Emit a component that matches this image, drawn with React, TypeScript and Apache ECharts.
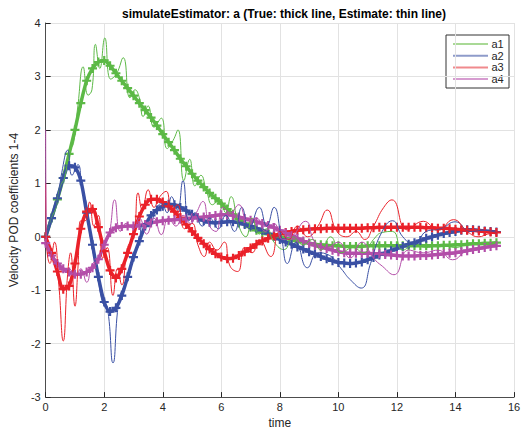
import React, { useEffect, useRef } from "react";
import * as echarts from "echarts";

// time grid of the "true" trajectories (step 0.2 s, 0 … 15.4)
const TRUE_TIME: number[] = Array.from({ length: 78 }, (_, i) => Math.round(i * 2) / 10);

const A1_TRUE = [
  0, 0.35, 0.7, 1.1, 1.55, 2.0, 2.5, 2.92, 3.15, 3.27,
  3.3, 3.2, 3.06, 2.92, 2.78, 2.64, 2.5, 2.37, 2.23, 2.08,
  1.92, 1.77, 1.62, 1.46, 1.32, 1.18, 1.05, 0.93, 0.82, 0.72,
  0.62, 0.52, 0.42, 0.33, 0.25, 0.18, 0.12, 0.08, 0.05, 0.02,
  0, -0.03, -0.05, -0.08, -0.1, -0.12, -0.14, -0.15, -0.16, -0.17,
  -0.17, -0.18, -0.18, -0.18, -0.18, -0.17, -0.17, -0.17, -0.17, -0.17,
  -0.17, -0.17, -0.17, -0.17, -0.17, -0.17, -0.17, -0.17, -0.16, -0.16,
  -0.15, -0.15, -0.14, -0.13, -0.13, -0.12, -0.12, -0.11,
];
const A2_TRUE = [
  0, 0.35, 0.72, 1.1, 1.33, 1.3, 1.05, 0.45, -0.15, -0.75,
  -1.22, -1.4, -1.33, -1.1, -0.75, -0.38, -0.08, 0.2, 0.4, 0.5,
  0.57, 0.61, 0.6, 0.55, 0.49, 0.42, 0.35, 0.3, 0.27, 0.26,
  0.27, 0.28, 0.28, 0.26, 0.23, 0.2, 0.16, 0.12, 0.06, 0.01,
  -0.05, -0.1, -0.14, -0.19, -0.23, -0.28, -0.32, -0.37, -0.41, -0.45,
  -0.48, -0.49, -0.5, -0.49, -0.47, -0.43, -0.39, -0.34, -0.3, -0.26,
  -0.22, -0.18, -0.14, -0.11, -0.07, -0.03, 0, 0.03, 0.06, 0.08,
  0.1, 0.12, 0.13, 0.13, 0.12, 0.11, 0.1, 0.09,
];
const A3_TRUE = [
  0, -0.3, -0.65, -0.98, -0.92, -0.5, 0.15, 0.47, 0.52, 0.18,
  -0.27, -0.63, -0.77, -0.6, -0.3, 0.05, 0.38, 0.6, 0.7, 0.7,
  0.65, 0.57, 0.47, 0.36, 0.23, 0.1, -0.02, -0.13, -0.23, -0.32,
  -0.38, -0.41, -0.4, -0.35, -0.28, -0.21, -0.14, -0.08, -0.03, 0.02,
  0.05, 0.08, 0.1, 0.12, 0.13, 0.14, 0.15, 0.15, 0.16, 0.16,
  0.16, 0.16, 0.16, 0.16, 0.16, 0.17, 0.17, 0.18, 0.18, 0.18,
  0.18, 0.18, 0.18, 0.18, 0.18, 0.17, 0.17, 0.16, 0.16, 0.15,
  0.14, 0.13, 0.12, 0.12, 0.11, 0.1, 0.09, 0.08,
];
const A4_TRUE = [
  -0.12, -0.35, -0.5, -0.6, -0.66, -0.7, -0.7, -0.66, -0.58, -0.42,
  -0.15, 0.08, 0.17, 0.19, 0.2, 0.2, 0.21, 0.23, 0.26, 0.28,
  0.3, 0.31, 0.32, 0.33, 0.34, 0.35, 0.36, 0.37, 0.38, 0.4,
  0.41, 0.41, 0.4, 0.37, 0.34, 0.31, 0.28, 0.25, 0.21, 0.17,
  0.12, 0.07, 0.02, -0.03, -0.08, -0.12, -0.16, -0.19, -0.22, -0.25,
  -0.28, -0.3, -0.31, -0.31, -0.31, -0.31, -0.32, -0.32, -0.33, -0.34,
  -0.35, -0.36, -0.36, -0.36, -0.35, -0.35, -0.34, -0.33, -0.32, -0.31,
  -0.3, -0.28, -0.26, -0.24, -0.22, -0.2, -0.18, -0.17,
];

// estimates: [time, value] points read at the wiggles' turning points
const A1_EST: [number, number][] = [
  [0, 0], [0.15, 0.3], [0.35, 0.55], [0.5, 0.95], [0.65, 1.1], [0.8, 1.6], [0.95, 1.75],
  [1.1, 2.45], [1.28, 3.18], [1.45, 2.65], [1.58, 2.75], [1.7, 3.6], [1.85, 3.15],
  [2.02, 3.72], [2.22, 2.95], [2.42, 3.05], [2.65, 3.35], [2.88, 2.6], [3.05, 2.75],
  [3.2, 2.6], [3.33, 2.25], [3.5, 2.45], [3.7, 2.05], [3.95, 2.22], [4.15, 1.65],
  [4.35, 1.8], [4.52, 2.0], [4.72, 1.05], [4.92, 1.45], [5.1, 0.95], [5.3, 1.15],
  [5.5, 0.85], [5.7, 0.6], [5.95, 0.7], [6.15, 0.45], [6.33, 0.75], [6.6, 0.2],
  [6.84, 0.0], [7.05, 0.35], [7.3, 0.05], [7.55, 0.15], [7.8, -0.1], [8.15, -0.24],
  [8.45, 0.0], [8.8, -0.15], [9.1, -0.05], [9.4, -0.25], [9.73, 0.0], [10.1, -0.3],
  [10.5, -0.2], [10.85, -0.3], [11.2, -0.05], [11.5, 0.08], [11.85, 0.1], [12.2, -0.25],
  [12.6, -0.15], [13.0, -0.2], [13.5, -0.15], [14.0, -0.2], [14.5, -0.12], [15.0, -0.15],
  [15.4, -0.1],
];
const A2_EST: [number, number][] = [
  [0, 0], [0.2, 0.4], [0.4, 0.65], [0.55, 1.2], [0.75, 1.62], [0.9, 1.15], [1.1, 1.35],
  [1.25, 0.9], [1.4, 0.6], [1.55, -0.1], [1.75, -0.6], [1.95, -1.25], [2.1, -1.3],
  [2.3, -2.36], [2.5, -1.2], [2.7, -0.9], [2.85, -0.75], [3.0, -0.3], [3.15, -0.2],
  [3.35, 0.25], [3.55, 0.2], [3.75, 0.5], [3.95, 0.62], [4.15, 0.45], [4.3, 0.75],
  [4.5, 0.5], [4.69, 1.05], [4.9, 0.3], [5.1, 0.45], [5.35, 0.2], [5.6, 0.35],
  [5.9, 0.15], [6.15, 0.4], [6.45, 0.1], [6.7, 0.55], [6.95, 0.15], [7.3, 0.55],
  [7.55, 0.2], [7.8, 0.55], [8.05, 0.0], [8.26, -0.5], [8.55, -0.1], [8.94, -0.58],
  [9.3, -0.3], [9.7, -0.35], [10.1, -0.6], [10.4, -0.8], [10.78, -0.96], [11.1, -0.5],
  [11.45, 0.05], [11.85, 0.3], [12.2, 0.0], [12.6, -0.15], [13.0, 0.1], [13.5, 0.15],
  [14.0, 0.28], [14.5, 0.1], [15.0, 0.12], [15.4, 0.08],
];
const A3_EST: [number, number][] = [
  [0, 1.0], [0.02, 0], [0.15, -0.5], [0.3, -0.1], [0.45, -0.9], [0.6, -1.95], [0.75, -0.7],
  [0.85, -0.3], [1.0, -1.3], [1.1, -0.6], [1.2, 0.3], [1.35, 0.3], [1.5, 0.65],
  [1.65, 0.2], [1.8, 0.4], [1.95, -0.4], [2.1, -0.2], [2.3, -1.1], [2.45, -0.6],
  [2.6, -0.9], [2.8, -0.2], [3.0, 0.0], [3.16, 0.82], [3.3, 0.5], [3.5, 0.88],
  [3.7, 0.55], [3.9, 0.75], [4.12, 0.85], [4.3, 0.5], [4.5, 0.6], [4.75, 0.15],
  [5.0, 0.25], [5.2, -0.15], [5.42, -0.37], [5.6, -0.1], [5.85, -0.25], [6.1, -0.1],
  [6.3, -0.55], [6.56, -0.65], [6.8, -0.2], [7.05, -0.3], [7.3, -0.05], [7.69, -0.37],
  [8.0, 0.1], [8.3, -0.05], [8.6, 0.2], [8.95, 0.0], [9.3, 0.2], [9.62, 0.5],
  [9.95, 0.1], [10.3, 0.0], [10.6, 0.1], [10.9, -0.05], [11.2, 0.2], [11.55, 0.55],
  [11.83, 0.69], [12.35, 0.13], [12.9, 0.29], [13.4, 0.12], [13.93, 0.32], [14.4, 0.1],
  [14.8, 0.0], [15.1, 0.05], [15.4, 0.07],
];
const A4_EST: [number, number][] = [
  [0, 2.0], [0.02, -0.1], [0.2, -0.4], [0.4, -0.45], [0.6, -0.65], [0.8, -0.6], [1.0, -0.75],
  [1.2, -0.6], [1.4, -0.85], [1.6, -0.5], [1.8, -0.45], [2.0, -0.1], [2.15, 0.0],
  [2.36, 0.69], [2.55, 0.1], [2.75, 0.25], [3.0, 0.15], [3.2, 0.35], [3.45, 0.05],
  [3.7, 0.35], [3.95, 0.04], [4.2, 0.35], [4.45, 0.2], [4.7, 0.4], [4.95, 0.25],
  [5.15, 0.45], [5.37, 0.66], [5.6, 0.2], [5.82, 0.1], [6.05, 0.55], [6.3, 0.45],
  [6.6, 0.6], [6.9, 0.3], [7.2, 0.35], [7.5, 0.1], [7.8, 0.25], [8.1, -0.05],
  [8.4, 0.0], [8.88, 0.29], [9.2, -0.1], [9.6, -0.2], [10.0, -0.1], [10.4, -0.4],
  [10.8, -0.1], [11.2, -0.4], [11.5, -0.55], [11.9, -0.71], [12.4, -0.25], [12.9, -0.3],
  [13.4, -0.25], [13.9, -0.43], [14.4, -0.25], [14.9, -0.2], [15.4, -0.15],
];

const NAMES = ["a1", "a2", "a3", "a4"];
const COLORS = ["#5cb946", "#3a50a4", "#ea2129", "#b34ea9"];
const LEGEND_COLORS = ["#a9d996", "#8e9bca", "#f08a8d", "#d69cd0"];
const X_TICKS = { min: 0, max: 16, interval: 2 };
const Y_TICKS = { min: -3, max: 4, interval: 1 };

const PLUS = "path://M3.8,0H6.2V3.8H10V6.2H6.2V10H3.8V6.2H0V3.8H3.8Z";
const FONT = "'Liberation Sans', Arial, Helvetica, sans-serif";

export default function App() {
  const ref = useRef<HTMLDivElement>(null);
  useEffect(() => {
    if (!ref.current) return;
    const chart = echarts.init(ref.current, null, { renderer: "svg" });
    const trues = [A1_TRUE, A2_TRUE, A3_TRUE, A4_TRUE];
    const ests = [A1_EST, A2_EST, A3_EST, A4_EST];
    const series: any[] = [];
    trues.forEach((vals, i) => {
      series.push({
        name: NAMES[i],
        type: "line",
        data: TRUE_TIME.map((t, k) => [t, vals[k]]),
        smooth: 0.3,
        symbol: PLUS,
        symbolSize: 9,
        showAllSymbol: true,
        lineStyle: { color: COLORS[i], width: 3.5 },
        itemStyle: { color: COLORS[i] },
        z: 2,
      });
    });
    ests.forEach((pts, i) => {
      series.push({
        name: NAMES[i] + " estimate",
        type: "line",
        data: pts,
        smooth: 0.5,
        symbol: "none",
        lineStyle: { color: COLORS[i], width: 1 },
        itemStyle: { color: COLORS[i] },
        z: 3,
      });
    });

    // legend box (drawn as graphic so that its lighter line colours are exact)
    const legendX = 446, legendY = 35, rowH = 11.7;
    const legendChildren: any[] = [
      {
        type: "rect",
        shape: { x: 0, y: 0, width: 63, height: 53 },
        style: { fill: "#fff", stroke: "#333", lineWidth: 1 },
      },
    ];
    NAMES.forEach((n, i) => {
      const cy = 9 + i * rowH;
      legendChildren.push({
        type: "line",
        shape: { x1: 7, y1: cy, x2: 42, y2: cy },
        style: { stroke: LEGEND_COLORS[i], lineWidth: 2 },
      });
      legendChildren.push({
        type: "text",
        x: 45.5,
        y: cy,
        style: {
          text: n,
          fill: "#262626",
          font: `11px ${FONT}`,
          verticalAlign: "middle",
          align: "left",
        },
      });
    });

    chart.setOption({
      animation: false,
      textStyle: { fontFamily: FONT },
      title: {
        text: "simulateEstimator: a (True: thick line, Estimate: thin line)",
        left: 279,
        top: 3,
        textAlign: "center",
        textStyle: { fontSize: 12, fontWeight: "bold", color: "#000", fontFamily: FONT },
      },
      graphic: [
        { type: "group", x: legendX, y: legendY, z: 100, children: legendChildren },
      ],
      grid: { left: 44, right: 15, top: 23, bottom: 36 },
      xAxis: {
        type: "value",
        ...X_TICKS,
        name: "time",
        nameLocation: "middle",
        nameGap: 19,
        nameTextStyle: { fontSize: 12, color: "#262626" },
        axisLine: { onZero: false, lineStyle: { color: "#4d4d4d", width: 1 } },
        axisTick: { inside: true, length: 5, lineStyle: { color: "#262626" } },
        axisLabel: { fontSize: 11, color: "#262626", margin: 4 },
        splitLine: { show: true, lineStyle: { color: "#e2e2e2", width: 1 } },
      },
      yAxis: {
        type: "value",
        ...Y_TICKS,
        name: "Velocity POD coefficients 1-4",
        nameLocation: "middle",
        nameGap: 22,
        nameTextStyle: { fontSize: 12, color: "#262626" },
        axisLine: { show: true, onZero: false, lineStyle: { color: "#4d4d4d", width: 1 } },
        axisTick: { show: true, inside: true, length: 5, lineStyle: { color: "#262626" } },
        axisLabel: { fontSize: 11, color: "#262626", margin: 5 },
        splitLine: { show: true, lineStyle: { color: "#e2e2e2", width: 1 } },
      },
      series,
    });
    return () => chart.dispose();
  }, []);
  return (
    <div
      ref={ref}
      style={{ position: "fixed", left: 0, top: 0, width: 529, height: 434, background: "#fff" }}
    />
  );
}
